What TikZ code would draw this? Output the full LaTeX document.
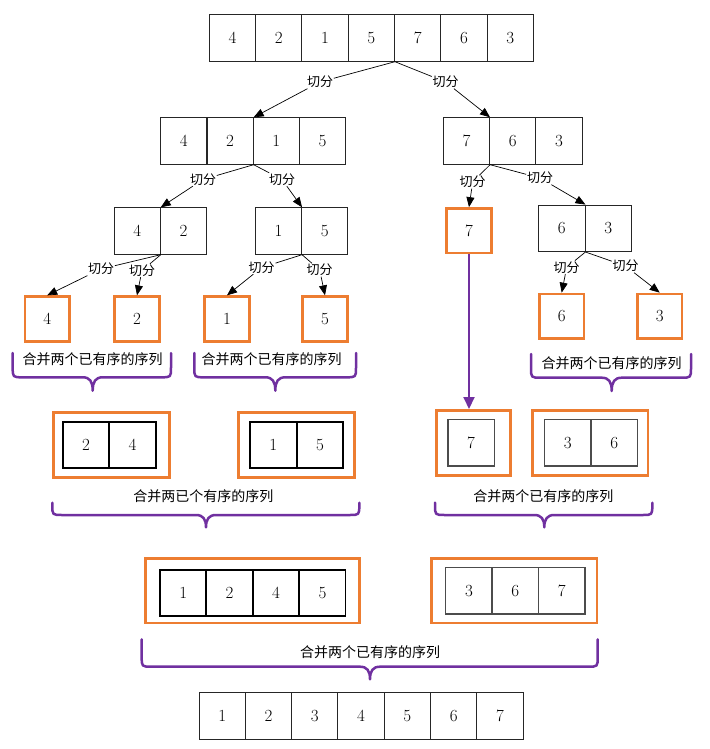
\documentclass[tikz,border=0pt]{standalone}
\usepackage{fontspec}
\newfontfamily\cjk{Noto Sans CJK SC}
\usetikzlibrary{arrows.meta}
\definecolor{orangeC}{HTML}{ED7D31}
\definecolor{purpleC}{HTML}{7030A0}
% x1, x2, xm, ytop, yline, ytip
\newcommand\mergebrace[6]{%
  \draw[pbrace] (#1,#4) -- (#1,{#5-10}) .. controls (#1,#5) .. ({#1+10},#5)
    -- ({#3-10},#5) .. controls ({#3-3},#5) and (#3,{#5+4}) .. (#3,#6)
    .. controls (#3,{#5+4}) and ({#3+3},#5) .. ({#3+10},#5)
    -- ({#2-10},#5) .. controls (#2,#5) .. (#2,{#5-10}) -- (#2,#4);}
\begin{document}
\begin{tikzpicture}[x=1pt,y=-1pt,
  digits/.style={font=\fontsize{17}{17}\selectfont},
  cell/.style={draw=black!85, line width=0.9pt, minimum width=46.3pt, minimum height=46.5pt, inner sep=0pt, digits},
  boldcell/.style={cell, draw=black, line width=1.8pt},
  graycell/.style={cell, draw=black!70, line width=1.3pt},
  leaf/.style={draw=orangeC, line width=2.8pt, minimum size=44.5pt, inner sep=0pt, digits},
  obox/.style={draw=orangeC, line width=2.8pt, inner sep=0pt},
  cut/.style={font=\cjk\fontsize{13}{13}\selectfont, inner sep=0.6pt},
  merge/.style={font=\cjk\fontsize{14}{14}\selectfont, inner sep=0pt},
  conn/.style={line width=0.7pt, -{Triangle[length=10pt,width=8pt]}},
  parrow/.style={draw=purpleC, line width=2pt, -{Triangle[length=12pt,width=11pt]}},
  pbrace/.style={draw=purpleC, line width=2.5pt, line cap=round, line join=round}]
\useasboundingbox (0,0) rectangle (709,749);

% top row
\foreach \v [count=\i] in {4,2,1,5,7,6,3}
  \node[cell] (t\i) at ({232.45+46.3*(\i-1)},38) {\v};

% level 2
\foreach \v [count=\i] in {4,2,1,5}
  \node[cell] (a\i) at ({183.85+46.2*(\i-1)},141) {\v};
\foreach \v [count=\i] in {7,6,3}
  \node[cell] (b\i) at ({466.45+46.3*(\i-1)},141) {\v};

% level 3
\node[cell] (c1) at (137.15,231) {4};
\node[cell] (c2) at (183.45,231) {2};
\node[cell] (d1) at (278.45,231) {1};
\node[cell] (d2) at (324.75,231) {5};
\node[leaf] (o7) at (469,230.8) {7};
\node[cell] (e1) at (561.85,228.3) {6};
\node[cell] (e2) at (608.15,228.3) {3};

% leaves
\node[leaf] (l4) at (47.2,319) {4};
\node[leaf] (l2) at (137,319) {2};
\node[leaf] (l1) at (227,319) {1};
\node[leaf] (l5) at (325,319) {5};
\node[leaf] (l6) at (561.7,316.3) {6};
\node[leaf] (l3) at (659.7,316.3) {3};

% cut labels
\node[cut] (L1) at (320,82) {切分};
\node[cut] (L2) at (445.5,82) {切分};
\node[cut] (L3) at (203,179.5) {切分};
\node[cut] (L4) at (282,179.5) {切分};
\node[cut] (L5) at (472.7,182) {切分};
\node[cut] (L6) at (540,178) {切分};
\node[cut] (L7) at (101,269) {切分};
\node[cut] (L8) at (142,270.5) {切分};
\node[cut] (L9) at (261.7,267.5) {切分};
\node[cut] (L10) at (319.7,270) {切分};
\node[cut] (L11) at (566.7,267.3) {切分};
\node[cut] (L12) at (625.5,266) {切分};

\draw[conn] (t4.south east) -- (L1) -- (a2.north east);
\draw[conn] (t4.south east) -- (L2) -- (b1.north east);
\draw[conn] (a2.south east) -- (L3) -- (c1.north east);
\draw[conn] (a2.south east) -- (L4) -- (d1.north east);
\draw[conn] (b1.south east) -- (L5) -- (o7.north);
\draw[conn] (b1.south east) -- (L6) -- (e1.north east);
\draw[conn] (c1.south east) -- (L7) -- (l4.north);
\draw[conn] (c1.south east) -- (L8) -- (l2.north);
\draw[conn] (d1.south east) -- (L9) -- (l1.north);
\draw[conn] (d1.south east) -- (L10) -- (l5.north);
\draw[conn] (e1.south east) -- (L11) -- (l6.north);
\draw[conn] (e1.south east) -- (L12) -- (l3.north);

% first merge braces
\node[merge] (M1) at (92.5,359.3) {合并两个已有序的序列};
\node[merge] (M2) at (271.7,359.3) {合并两个已有序的序列};
\node[merge] (M3) at (611.7,363.3) {合并两个已有序的序列};
\mergebrace{12.7}{171}{92.7}{353}{377.3}{390.7}
\mergebrace{194.3}{356}{275.3}{353}{377.3}{390.7}
\mergebrace{531}{691}{611.7}{354}{377.7}{391}

% second level merged boxes
\node[obox, minimum width=116.5pt, minimum height=65.2pt] (g24) at (111.35,445) {};
\node[boldcell] (g24a) at (86.15,445) {2};
\node[boldcell] (g24b) at (132.45,445) {4};
\node[obox, minimum width=116.5pt, minimum height=65.2pt] (g15) at (296.35,445) {};
\node[boldcell] (g15a) at (273.3,445) {1};
\node[boldcell] (g15b) at (319.95,445) {5};
\node[obox, minimum width=74.2pt, minimum height=64.9pt] (g7) at (473.5,442.85) {};
\node[graycell] (g7a) at (471,442.65) {7};
\node[obox, minimum width=115.8pt, minimum height=64.9pt] (g36) at (590,442.85) {};
\node[graycell] (g36a) at (567.65,442.65) {3};
\node[graycell] (g36b) at (614.35,442.65) {6};

\draw[parrow] (o7.south) -- (g7.north -| o7.south);

\node[merge] (M4) at (203.3,496) {合并两已个有序的序列};
\node[merge] (M5) at (543.3,495.7) {合并两个已有序的序列};
\mergebrace{52.3}{359.3}{206}{502.7}{515}{527.3}
\mergebrace{435}{652.3}{544.3}{502.7}{515}{527.3}

% third level
\node[obox, minimum width=213.9pt, minimum height=64.8pt] (h1245) at (252.65,590.5) {};
\foreach \v [count=\i] in {1,2,4,5}
  \node[boldcell] (h\i) at ({183.2+46.4*(\i-1)},593) {\v};
\node[obox, minimum width=165.5pt, minimum height=64.8pt] (h367) at (514.15,590.5) {};
\foreach \v [count=\i] in {3,6,7}
  \node[graycell] (k\i) at ({468.9+46.4*(\i-1)},590.65) {\v};

\node[merge] (M6) at (370,652.3) {合并两个已有序的序列};
\mergebrace{141.7}{597.7}{370}{639.3}{666.7}{679.3}

% final row
\foreach \v [count=\i] in {1,2,3,4,5,6,7}
  \node[cell] (f\i) at ({222.15+46.3*(\i-1)},716) {\v};
\end{tikzpicture}
\end{document}
